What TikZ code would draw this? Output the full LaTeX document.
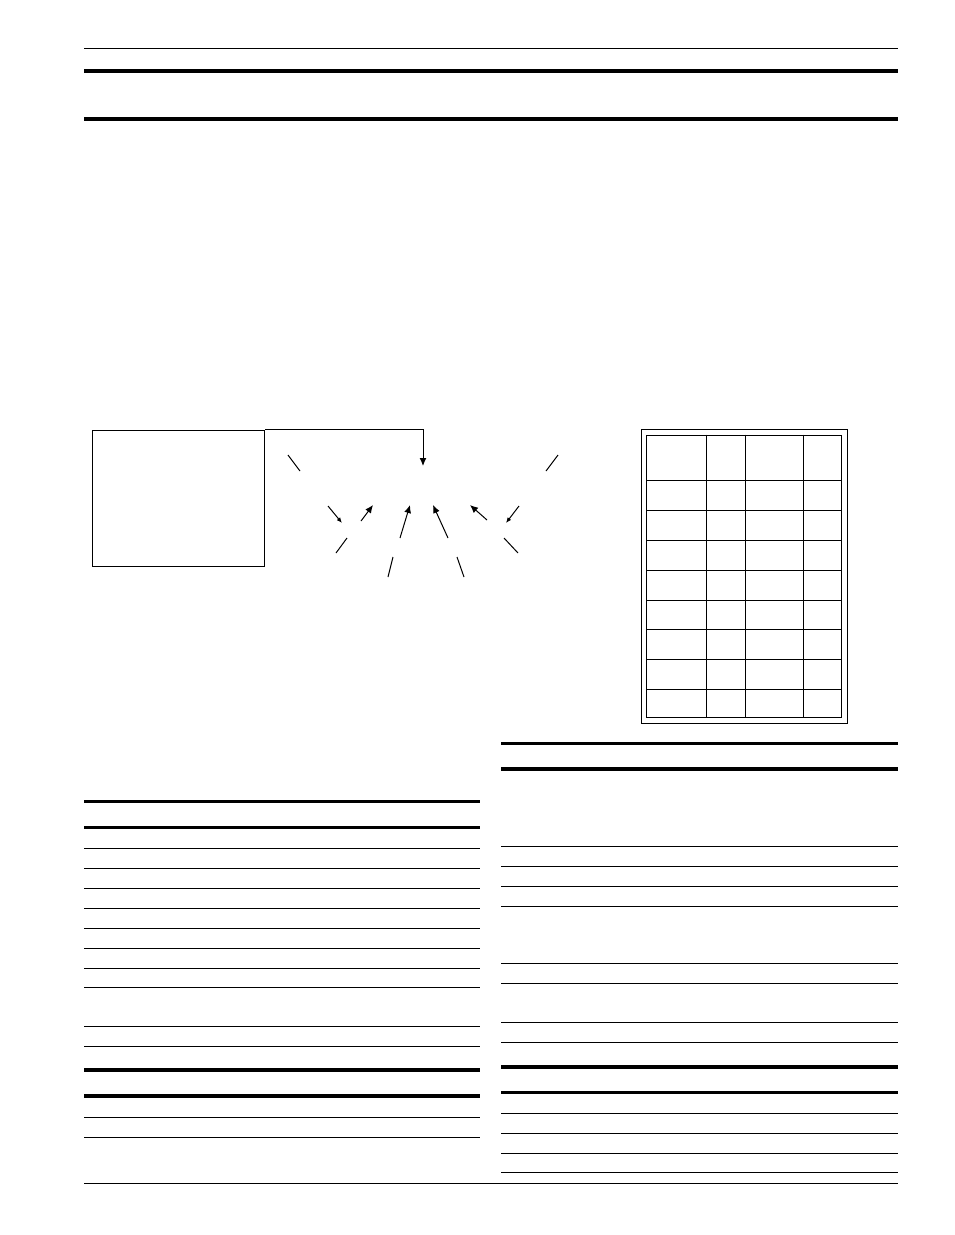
\documentclass[tikz,border=0pt]{standalone}
\usetikzlibrary{arrows.meta}
\begin{document}
\begin{tikzpicture}[x=1pt, y=-1pt]
  \tikzstyle{rule} = [line width=1pt]
  \tikzstyle{heavyrule} = [line width=3.2pt]
  \tikzstyle{panel} = [rectangle, draw, line width=1.2pt, anchor=north west, inner sep=0pt,
                                    minimum width=172pt, minimum height=136pt]
  \tikzstyle{frame} = [rectangle, draw, line width=1pt, anchor=north west, inner sep=0pt]
  \tikzstyle{leader} = [line width=1pt]
  \tikzstyle{pointer} = [-{Latex[length=8pt, width=7pt]}, line width=1pt]
  \tikzstyle{smallpointer} = [-{Latex[length=5.5pt, width=4.5pt]}, line width=1pt]
\useasboundingbox (0,0) rectangle (954,1235);
\draw[rule] (84,48) -- (898,48);
\draw[heavyrule] (84,71) -- (898,71);
\draw[heavyrule] (84,119) -- (898,119);
\draw[rule] (84,1183.5) -- (898,1183.5);
\node[panel] (unit) at (92,429.5) {};
\coordinate (feed) at (423,466);
\draw[pointer] (unit.north east) -| (feed);
\draw[leader] (288,455) -- (300,471);
\draw[leader] (558,455) -- (546,471);
\draw[smallpointer] (328,506) -- (342,523);
\draw[pointer] (361,521) -- (373,505);
\draw[pointer] (400,538) -- (410,505);
\draw[pointer] (448,538) -- (433,505);
\draw[pointer] (487,520) -- (470,505);
\draw[smallpointer] (519,506) -- (506,523);
\draw[leader] (347,538) -- (336,553);
\draw[leader] (504,538) -- (518,553);
\draw[leader] (393,557) -- (388,577);
\draw[leader] (457,557) -- (464,577);
\node[frame, minimum width=206pt, minimum height=294pt] (sheet) at (641,428.5) {};
\node[frame, minimum width=195pt, minimum height=282pt] (grid) at (646,434.5) {};
\foreach \cx in {706,745,803}
  \draw[rule] (\cx,434.5) -- (\cx,716.5);
\foreach \ry in {480.5,510.5,540.5,570.5,600.5,629.5,659.5,689.5}
  \draw[rule] (646,\ry) -- (841,\ry);
\foreach \ry in {801.5,827.5,1070,1096}
  \draw[heavyrule] (84,\ry) -- (480,\ry);
\foreach \ry in {848.5,868.5,888.5,908.5,928.5,948.5,968.5,987.5,1026,1046,1117.5,1137.5}
  \draw[rule] (84,\ry) -- (480,\ry);
\foreach \ry in {743.5,769,1067,1092.5}
  \draw[heavyrule] (501,\ry) -- (898,\ry);
\foreach \ry in {846.5,866.5,886.5,906.5,963.5,983.5,1022.5,1042.5,1113.5,1133.5,1153.5,1172.5}
  \draw[rule] (501,\ry) -- (898,\ry);
\end{tikzpicture}
\end{document}
